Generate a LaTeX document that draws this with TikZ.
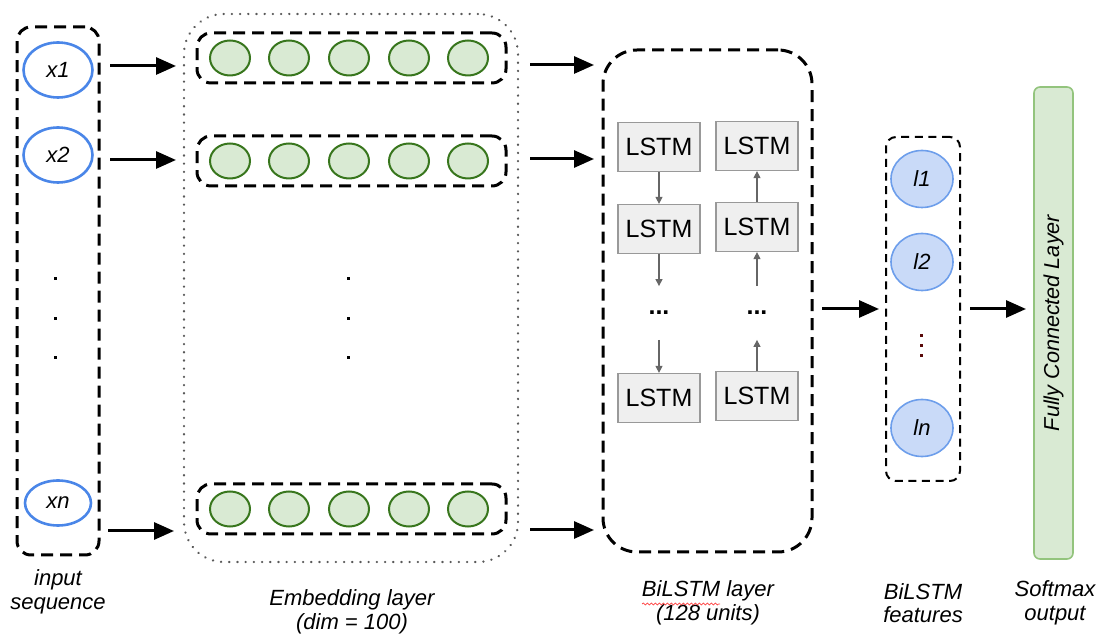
\documentclass[tikz,border=0pt]{standalone}
\usepackage{fontspec}
\setmainfont{Liberation Sans}
\usepackage{tikz}
\usetikzlibrary{arrows.meta, positioning, shapes.geometric, decorations.pathmorphing}

\definecolor{inblue}{HTML}{4A86E8}
\definecolor{embline}{HTML}{38761D}
\definecolor{embfill}{HTML}{D9EAD3}
\definecolor{lstmfill}{HTML}{EFEFEF}
\definecolor{lstmline}{HTML}{999999}
\definecolor{featfill}{HTML}{C9DAF8}
\definecolor{featline}{HTML}{6D9EEB}
\definecolor{fcline}{HTML}{93C47D}
\definecolor{dotred}{HTML}{5A0A0A}

\tikzset{
  grpbox/.style={draw, line width=1.5pt, dash pattern=on 6pt off 3.5pt, rounded corners=7pt, inner sep=0pt},
  rowbox/.style={grpbox, minimum width=154.5pt, minimum height=25pt},
  tokell/.style={ellipse, draw=inblue, line width=1.3pt, inner sep=0pt, font=\fontsize{11}{13}\selectfont\itshape},
  embcirc/.style={ellipse, draw=embline, fill=embfill, line width=1pt, minimum width=20pt, minimum height=17.5pt, inner sep=0pt},
  lstmbox/.style={draw=lstmline, fill=lstmfill, line width=0.6pt, minimum width=41pt, minimum height=24.5pt, inner sep=0pt, font=\fontsize{12.5}{14}\selectfont},
  dotsnode/.style={minimum height=26.5pt, inner sep=0pt, font=\fontsize{12.5}{14}\selectfont\bfseries},
  featell/.style={ellipse, draw=featline, fill=featfill, line width=0.8pt, minimum width=31pt, minimum height=28.5pt, inner sep=0pt, font=\fontsize{11}{13}\selectfont\itshape},
  lbl/.style={align=center, font=\fontsize{11}{11.8}\selectfont\itshape},
  bigarrow/.style={line width=1.5pt, -{Triangle[length=10pt,width=8.5pt]}},
  smallarrow/.style={draw=black!60, line width=0.6pt, -{Triangle[length=3.5pt,width=3.5pt]}}
}

\begin{document}
\begin{tikzpicture}[x=0.5pt, y=-0.5pt]
  \useasboundingbox (0,0) rectangle (1098,635);

  % Input sequence
  \node[grpbox, minimum width=41pt, minimum height=264pt] (inbox) at (58,291) {};
  \node[tokell, minimum width=34.5pt, minimum height=27.5pt] (x1) at (58,70) {x1};
  \node[tokell, minimum width=34.5pt, minimum height=27.5pt] (x2) at (58,155) {x2};
  \node[tokell, minimum width=33pt, minimum height=22.5pt] (xn) at (58,503) {xn};
  \foreach \y in {279,319,358}
    \fill (53.5,\y-1.5) rectangle ++(3,3);
  \node[lbl] (inlab) at (58,592) {input\\sequence};

  % Embedding layer
  \node[draw=black!65, line width=1.2pt, dash pattern=on 0.1pt off 4pt, line cap=round, rounded corners=20pt, minimum width=167pt, minimum height=274pt, inner sep=0pt] (embbox) at (351,288) {};
  \foreach \r/\ry in {1/58,2/161,n/509} {
    \node[rowbox] (row\r) at (351.5,\ry) {};
    \foreach \x [count=\i] in {230,289,349,409,468}
      \node[embcirc] (e\r\i) at (\x,\ry) {};
  }
  \foreach \y in {279,319,358}
    \fill (346.5,\y-1.5) rectangle ++(3,3);
  \node[lbl] (emblab) at (352,612) {Embedding layer\\(dim = 100)};

  \coordinate (in1s) at (110,66);  \coordinate (in1e) at (176,66);
  \coordinate (in2s) at (110,160); \coordinate (in2e) at (176,160);
  \coordinate (inns) at (108,531); \coordinate (inne) at (174,531);
  \draw[bigarrow] (in1s) -- (in1e);
  \draw[bigarrow] (in2s) -- (in2e);
  \draw[bigarrow] (inns) -- (inne);

  % BiLSTM layer
  \node[grpbox, rounded corners=17pt, minimum width=104.5pt, minimum height=251pt] (bibox) at (707.5,301) {};
  \node[lstmbox] (f1) at (659,147) {LSTM};
  \node[lstmbox] (f2) at (659,229) {LSTM};
  \node[dotsnode] (fd) at (659,313) {...};
  \node[lstmbox] (f3) at (659,398) {LSTM};
  \node[lstmbox] (b1) at (757,146) {LSTM};
  \node[lstmbox] (b2) at (757,227) {LSTM};
  \node[dotsnode] (bd) at (757,313) {...};
  \node[lstmbox] (b3) at (757,396) {LSTM};
  \draw[smallarrow] (f1) -- (f2);
  \draw[smallarrow] (f2) -- (fd);
  \draw[smallarrow] (fd) -- (f3);
  \draw[smallarrow] (b3) -- (bd);
  \draw[smallarrow] (bd) -- (b2);
  \draw[smallarrow] (b2) -- (b1);
  \node[lbl] (bilab) at (708,603) {BiLSTM layer\\(128 units)};
  \draw[red!75, line width=0.35pt, decorate, decoration={snake, amplitude=0.5pt, segment length=2pt}] (642,604) -- (720,604);

  \coordinate (em1s) at (530,65);  \coordinate (em1e) at (594,65);
  \coordinate (em2s) at (530,159); \coordinate (em2e) at (594,159);
  \coordinate (emns) at (530,530); \coordinate (emne) at (594,530);
  \draw[bigarrow] (em1s) -- (em1e);
  \draw[bigarrow] (em2s) -- (em2e);
  \draw[bigarrow] (emns) -- (emne);

  % BiLSTM features
  \node[draw, line width=1pt, dash pattern=on 4pt off 2.8pt, rounded corners=5pt, minimum width=37pt, minimum height=172pt, inner sep=0pt] (featbox) at (923,309) {};
  \node[featell] (l1) at (922,179) {l1};
  \node[featell] (l2) at (922,262) {l2};
  \node[featell] (ln) at (922,428) {ln};
  \foreach \y in {336,346,356}
    \fill[dotred] (919.5,\y-1.5) rectangle ++(3,3);
  \node[lbl] (featlab) at (923,603) {BiLSTM\\features};

  \coordinate (bis) at (822,309); \coordinate (bie) at (879,309);
  \draw[bigarrow] (bis) -- (bie);

  % Softmax output
  \node[draw=fcline, fill=embfill, line width=0.8pt, rounded corners=3pt, minimum width=19.5pt, minimum height=236pt, inner sep=0pt] (fc) at (1053.5,323) {};
  \node[rotate=90, font=\fontsize{10.8}{13}\selectfont\itshape] (fclab) at (fc) {Fully Connected Layer};
  \node[lbl] (smlab) at (1055,603) {Softmax\\output};

  \coordinate (fes) at (970,309); \coordinate (fee) at (1026,309);
  \draw[bigarrow] (fes) -- (fee);
\end{tikzpicture}
\end{document}
